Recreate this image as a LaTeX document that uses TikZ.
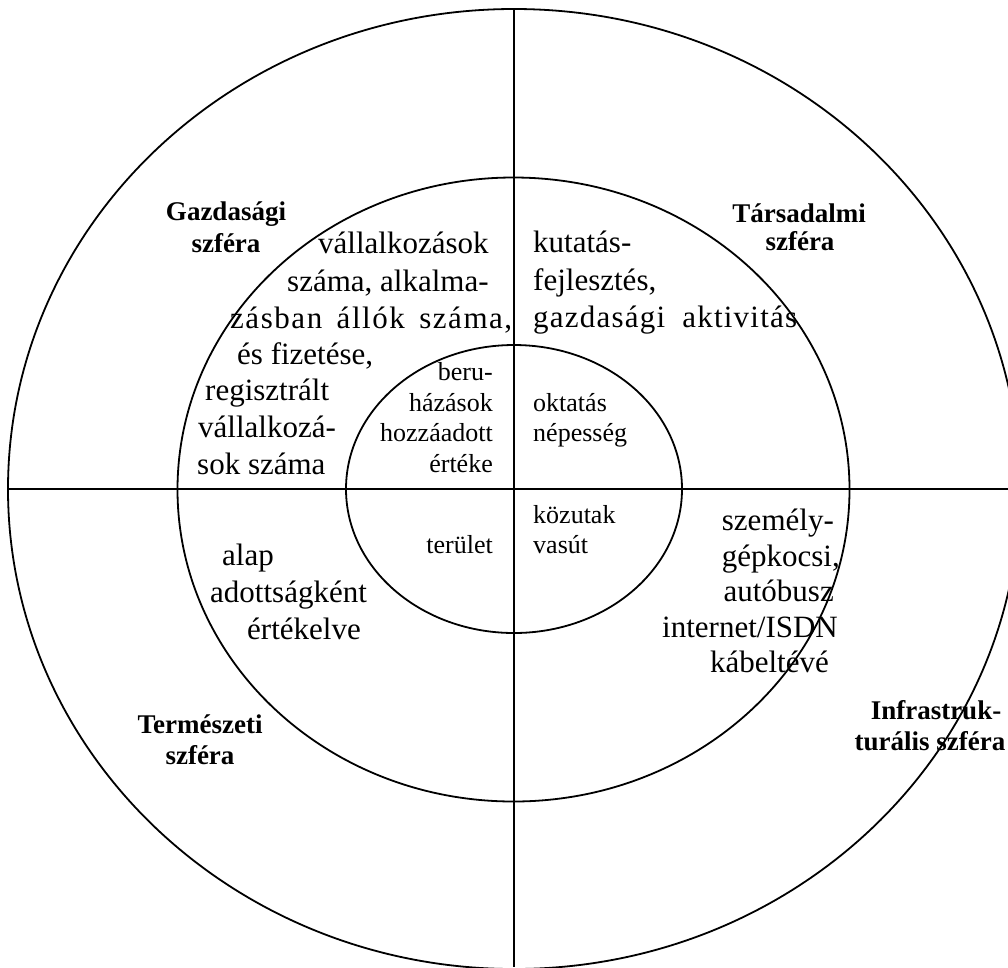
\documentclass[tikz,border=0pt]{standalone}
\usepackage{fontspec}
\setmainfont{Liberation Serif}
\begin{document}
\begin{tikzpicture}[x=1pt,y=-1pt,
  ring/.style={draw=black, line width=1.8pt},
  axis/.style={draw=black, line width=1.8pt},
  big/.style={font=\fontsize{31}{36}\selectfont, inner sep=0pt},
  small/.style={font=\fontsize{26}{30}\selectfont, inner sep=0pt},
  lab/.style={font=\fontsize{27}{31}\selectfont\bfseries, inner sep=0pt, anchor=base}]
\useasboundingbox (0,0) rectangle (1008,967);
\clip (0,0) rectangle (1008,967);
\fill[white] (0,0) rectangle (1008,967);

% circles
\coordinate (c) at (514,489);
\draw[ring] (c) ellipse [x radius=506, y radius=480];
\draw[ring] (513.5,489.5) ellipse [x radius=336, y radius=312];
\draw[ring] (c) ellipse [x radius=168, y radius=144];

% axes
\coordinate (top) at (514,9);
\coordinate (bot) at (514,967);
\coordinate (lft) at (8,489);
\coordinate (rgt) at (1008,489);
\draw[axis] (top) -- (bot);
\draw[axis] (lft) -- (rgt);

% sphere labels
\node[lab] (g1) at (226,220) {Gazdasági};
\node[lab] (g2) at (226,252) {szféra};
\node[lab] (t1) at (799,222) {Társadalmi};
\node[lab] (t2) at (800,250) {szféra};
\node[lab] (n1) at (200,733) {Természeti};
\node[lab] (n2) at (200,764) {szféra};
\node[lab] (i1) at (936,719) {Infrastruk-};
\node[lab] (i2) at (930,750) {turális szféra};

% upper left ring
\node[big, anchor=base west] (ul1) at (318,253) {vállalkozások};
\node[big, anchor=base west] (ul2) at (287,291) {száma, alkalma-};
\node[big, anchor=base west] (ul3) at (230,328) {\addfontfeature{LetterSpace=5}\makebox[282pt][s]{zásban állók száma,}};
\node[big, anchor=base west] (ul4) at (237,364) {és fizetése,};
\node[big, anchor=base west] (ul5) at (205,400) {regisztrált};
\node[big, anchor=base west] (ul6) at (198,437) {vállalkozá-};
\node[big, anchor=base west] (ul7) at (197,474) {sok száma};

% upper right ring
\node[big, anchor=base west] (ur1) at (533,252) {kutatás-};
\node[big, anchor=base west] (ur2) at (533,290) {fejlesztés,};
\node[big, anchor=base west] (ur3) at (533,327) {\addfontfeature{LetterSpace=4}\makebox[264pt][s]{gazdasági aktivitás}};

% inner circle
\node[small, anchor=base east] (a1) at (493,380) {beru-};
\node[small, anchor=base east] (a2) at (493,411) {házások};
\node[small, anchor=base east] (a3) at (493,441) {hozzáadott};
\node[small, anchor=base east] (a4) at (493,472) {értéke};
\node[small, anchor=base west] (b1) at (533,411) {oktatás};
\node[small, anchor=base west] (b2) at (533,441) {népesség};
\node[small, anchor=base west] (d1) at (533,523) {közutak};
\node[small, anchor=base west] (d2) at (533,553) {vasút};
\node[small, anchor=base east] (e1) at (493,553) {terület};

% lower left ring
\node[big, anchor=base west] (ll1) at (222,565) {alap};
\node[big, anchor=base west] (ll2) at (210,602) {adottságként};
\node[big, anchor=base west] (ll3) at (247,639) {értékelve};

% lower right ring
\node[big, anchor=base east] (lr1) at (834,530) {személy-};
\node[big, anchor=base east] (lr2) at (840,566) {gépkocsi,};
\node[big, anchor=base east] (lr3) at (834,601) {autóbusz};
\node[big, anchor=base east] (lr4) at (838,637) {internet/ISDN};
\node[big, anchor=base east] (lr5) at (829,672) {kábeltévé};
\end{tikzpicture}
\end{document}
